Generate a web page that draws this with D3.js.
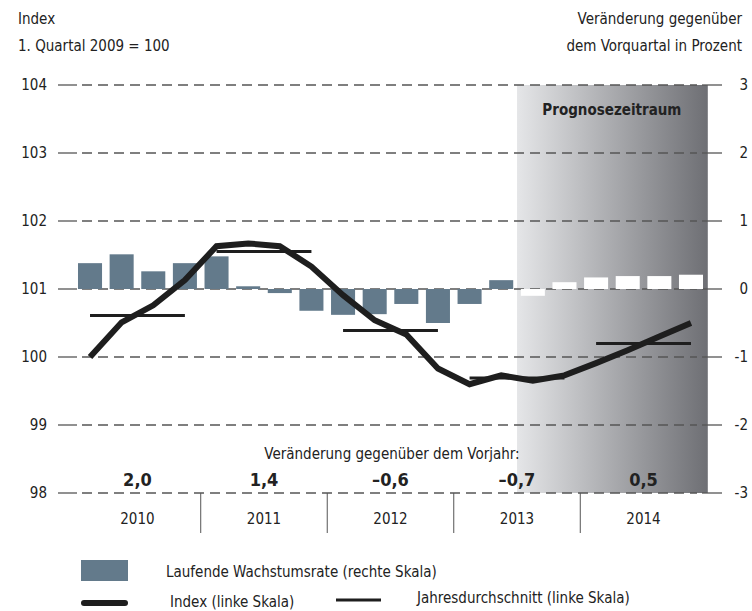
<!DOCTYPE html>
<html>
<head>
<meta charset="utf-8">
<script src="https://cdn.jsdelivr.net/npm/d3@7"></script>
<style>
  body { margin: 0; background: #fff; }
  svg text { font-family: "Liberation Sans Narrow", "DejaVu Sans Condensed", "Open Sans", sans-serif; fill: #222; }
</style>
</head>
<body>
<svg id="chart" width="752" height="611"></svg>
<script>
const quarters = ["2010Q1","2010Q2","2010Q3","2010Q4","2011Q1","2011Q2","2011Q3","2011Q4",
  "2012Q1","2012Q2","2012Q3","2012Q4","2013Q1","2013Q2","2013Q3","2013Q4",
  "2014Q1","2014Q2","2014Q3","2014Q4"];
const growthRate = [0.38,0.51,0.26,0.38,0.48,0.04,-0.06,-0.32,-0.38,-0.37,-0.22,-0.50,-0.22,0.13,-0.10,0.10,0.17,0.19,0.19,0.21];
const forecastFrom = "2013Q3";
const indexValues = [100.0,100.51,100.76,101.13,101.63,101.67,101.63,101.33,100.91,100.54,100.33,99.83,99.60,99.73,99.65,99.73,99.91,100.10,100.30,100.50];
const years = ["2010","2011","2012","2013","2014"];
const annualAverage = [100.61,101.55,100.39,99.69,100.20];
const annualChange = ["2,0","1,4","\u20130,6","\u20130,7","0,5"];
const leftTicks = [98,99,100,101,102,103,104];
const rightTicks = [-3,-2,-1,0,1,2,3];

const svg = d3.select("#chart");
const plotL = 74.2, plotR = 706.8, gridL = 58, gridR = 722;
const yTop = 85, yBot = 493;

const x = d3.scaleBand().domain(quarters).range([plotL, plotR]).paddingInner(0.24).paddingOuter(0.12);
const xc = q => x(q) + x.bandwidth() / 2;
const xYear = d3.scaleBand().domain(years).range([plotL, plotR]);
const yL = d3.scaleLinear().domain([98, 104]).range([yBot, yTop]);
const yR = d3.scaleLinear().domain([-3, 3]).range([yBot, yTop]);

// forecast shading
const defs = svg.append("defs");
const grad = defs.append("linearGradient").attr("id", "fc").attr("x1", "0%").attr("x2", "100%");
grad.append("stop").attr("offset", "0%").attr("stop-color", "#e5e6e8");
grad.append("stop").attr("offset", "100%").attr("stop-color", "#6e6f74");
const fcX = x(forecastFrom) - x.step() * x.paddingInner() / 2;
svg.append("rect").attr("x", fcX).attr("y", yTop).attr("width", plotR + 1 - fcX).attr("height", yBot - yTop)
  .attr("fill", "url(#fc)");

// left axis labels
const gLeft = svg.append("g").attr("transform", `translate(${gridL},0)`)
  .call(d3.axisLeft(yL).tickValues(leftTicks).tickFormat(d => String(d)).tickSize(0).tickPadding(11));
gLeft.select(".domain").remove();
gLeft.selectAll(".tick text").style("font-size", "15px").attr("fill", "#222");

// grid lines: long dash at each end, short dashes between
const grid = svg.append("g").attr("stroke", "#555").attr("stroke-width", 1.3);
grid.selectAll("line.mid").data(leftTicks).join("line").attr("class", "mid")
  .attr("x1", 82).attr("x2", 697).attr("y1", d => yL(d)).attr("y2", d => yL(d))
  .attr("stroke-dasharray", "10,6");
grid.selectAll("line.l").data(leftTicks).join("line").attr("class", "l")
  .attr("x1", gridL).attr("x2", 77).attr("y1", d => yL(d)).attr("y2", d => yL(d));
grid.selectAll("line.r").data(leftTicks).join("line").attr("class", "r")
  .attr("x1", 702).attr("x2", gridR).attr("y1", d => yL(d)).attr("y2", d => yL(d));

// right axis
const gRight = svg.append("g").attr("transform", `translate(${gridR},0)`)
  .call(d3.axisRight(yR).tickValues(rightTicks).tickFormat(d => String(d)).tickSize(0).tickPadding(0));
gRight.select(".domain").remove();
gRight.selectAll(".tick text").attr("x", 26).attr("text-anchor", "end").style("font-size", "15px");

// bars
svg.append("g").selectAll("rect").data(quarters).join("rect")
  .attr("x", d => x(d))
  .attr("width", x.bandwidth())
  .attr("y", (d, i) => yR(Math.max(0, growthRate[i])))
  .attr("height", (d, i) => Math.abs(yR(growthRate[i]) - yR(0)))
  .attr("fill", d => quarters.indexOf(d) >= quarters.indexOf(forecastFrom) ? "#ffffff" : "#637a8b");

// annual averages
svg.append("g").selectAll("line").data(years).join("line")
  .attr("x1", (d, i) => xc(quarters[i * 4]))
  .attr("x2", (d, i) => xc(quarters[i * 4 + 3]))
  .attr("y1", (d, i) => yL(annualAverage[i]))
  .attr("y2", (d, i) => yL(annualAverage[i]))
  .attr("stroke", "#1e1e1e").attr("stroke-width", 3);

// index line
svg.append("path").datum(indexValues)
  .attr("d", d3.line().x((d, i) => xc(quarters[i])).y(d => yL(d)))
  .attr("fill", "none").attr("stroke", "#1e1e1e").attr("stroke-width", 6)
  .attr("stroke-linejoin", "miter").attr("stroke-linecap", "butt");

// year axis
const gYear = svg.append("g").attr("transform", `translate(0,${yBot})`)
  .call(d3.axisBottom(xYear).tickSize(0).tickPadding(20));
gYear.select(".domain").remove();
gYear.selectAll(".tick text").style("font-size", "15px");
svg.append("g").selectAll("line").data(years.slice(1)).join("line")
  .attr("x1", d => xYear(d)).attr("x2", d => xYear(d))
  .attr("y1", yBot).attr("y2", 533).attr("stroke", "#555").attr("stroke-width", 1);

// annual change
svg.append("text").attr("x", 392).attr("y", 459).attr("text-anchor", "middle").style("font-size", "15px")
  .text("Veränderung gegenüber dem Vorjahr:");
svg.append("g").selectAll("text").data(years).join("text")
  .attr("x", d => xYear(d) + xYear.bandwidth() / 2).attr("y", 486)
  .attr("text-anchor", "middle").style("font-size", "18px").style("font-weight", "bold")
  .text((d, i) => annualChange[i]);

// forecast label
svg.append("text").attr("x", (fcX + plotR) / 2).attr("y", 115).attr("text-anchor", "middle")
  .style("font-size", "15px").style("font-weight", "bold").text("Prognosezeitraum");

// axis titles
svg.append("text").attr("x", 18).attr("y", 24).style("font-size", "15px").text("Index");
svg.append("text").attr("x", 18).attr("y", 51).style("font-size", "15px").text("1. Quartal 2009 = 100");
svg.append("text").attr("x", 742).attr("y", 24).attr("text-anchor", "end").style("font-size", "15px").text("Veränderung gegenüber");
svg.append("text").attr("x", 742).attr("y", 51).attr("text-anchor", "end").style("font-size", "15px").text("dem Vorquartal in Prozent");

// legend
svg.append("rect").attr("x", 81).attr("y", 560).attr("width", 47).attr("height", 21).attr("fill", "#637a8b");
svg.append("text").attr("x", 166).attr("y", 577).style("font-size", "15px").text("Laufende Wachstumsrate (rechte Skala)");
svg.append("line").attr("x1", 84).attr("x2", 125).attr("y1", 603).attr("y2", 603)
  .attr("stroke", "#1e1e1e").attr("stroke-width", 6).attr("stroke-linecap", "round");
svg.append("text").attr("x", 170).attr("y", 607).style("font-size", "15px").text("Index (linke Skala)");
svg.append("line").attr("x1", 336).attr("x2", 381).attr("y1", 600).attr("y2", 600)
  .attr("stroke", "#1e1e1e").attr("stroke-width", 3);
svg.append("text").attr("x", 417).attr("y", 603).style("font-size", "15px").text("Jahresdurchschnitt (linke Skala)");
</script>
</body>
</html>
